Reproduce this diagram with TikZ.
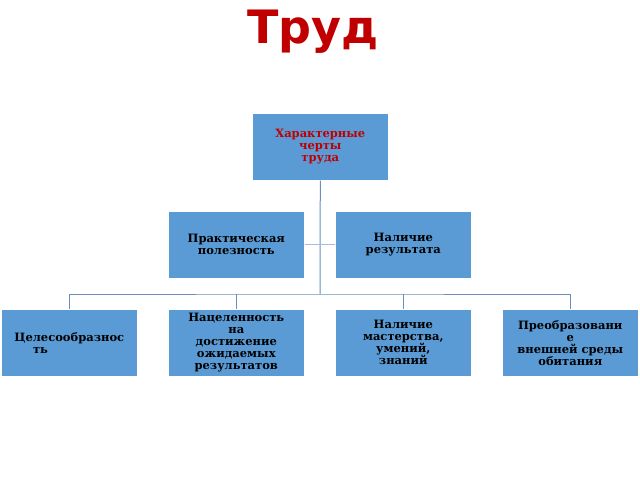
\documentclass[tikz,border=0pt]{standalone}
\usepackage{fontspec}
\setmainfont{DejaVu Serif}
\newfontfamily\titlefont{DejaVu Sans}
\definecolor{boxc}{HTML}{5B9BD5}
\definecolor{linec}{HTML}{6A8FBF}
\definecolor{redt}{HTML}{C00000}
\begin{document}
\begin{tikzpicture}[x=1pt,y=-1pt,
  box/.style={draw=white,line width=0.6pt,fill=boxc,minimum width=136pt,minimum height=67pt,inner sep=1pt,align=center,font=\bfseries\fontsize{11.5}{12}\selectfont,anchor=north west},
  conn/.style={draw=linec,line width=1pt}]
\useasboundingbox (0,0) rectangle (640,480);
\node[font=\titlefont\bfseries\fontsize{46}{50}\selectfont,text=redt] (title) at (313,32) {Труд};
\node[box,text=redt] (top) at (252,113) {Характерные\\черты\\ труда};
\node[box] (p1) at (168,211) {Практическая\\полезность};
\node[box] (p2) at (335,211) {Наличие\\ результата};
\node[box] (b1) at (1,309) {Целесообразнос\\ть\hspace*{5em}};
\node[box] (b2) at (168,309) {Нацеленность\\на\\достижение\\ ожидаемых\\ результатов};
\node[box] (b3) at (335,309) {Наличие\\мастерства,\\ умений,\\ знаний};
\node[box] (b4) at (502,309) {Преобразовани\\е\\внешней среды\\обитания};
\coordinate (bus) at (320,294);
\draw[conn] (top.south) -- (bus);
\draw[conn,draw=linec!60] (p1.east) -- (p2.west);
\draw[conn] (b1.north) |- (bus) -| (b4.north);
\draw[conn] (b2.north) -- (b2.north |- bus);
\draw[conn] (b3.north) -- (b3.north |- bus);
\end{tikzpicture}
\end{document}
